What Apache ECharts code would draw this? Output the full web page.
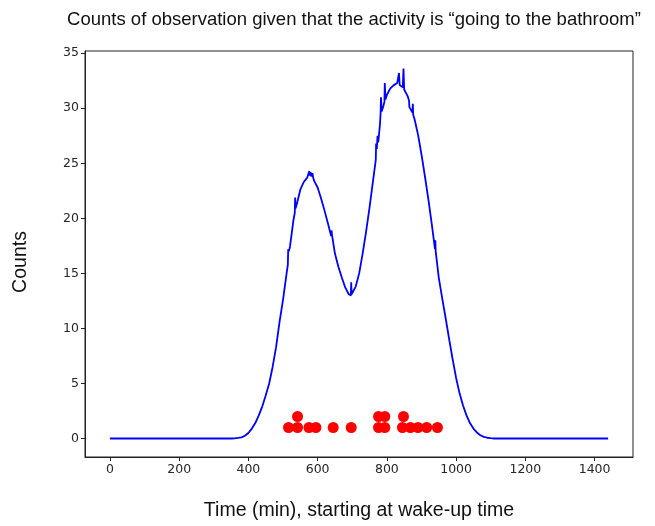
<!DOCTYPE html>
<html>
<head>
<meta charset="utf-8">
<script src="https://cdn.jsdelivr.net/npm/echarts@6/dist/echarts.min.js"></script>
<style>html,body{margin:0;padding:0;background:#fff}#c{width:655px;height:526px}</style>
</head>
<body>
<div id="c"></div>
<script>
// Curve: time (min) and counts
const timeMin = [0,350,360,370,380,390,400,410,420,430,440,450,460,470,480,490,500,510,514,515,517,520,530,534,535,536,540,550,560,570,575,576,577,580,582,585,587,590,600,610,620,630,639,640,642,650,660,670,680,690,696,697,698,700,710,720,730,740,750,760,768,769,771,773,775,780,782,783,785,790,793,794,796,800,810,820,830,834,835,837,840,846,848,850,860,864,865,870,874,875,876,880,890,900,910,920,930,939,940,941,950,960,970,980,990,1000,1010,1020,1030,1040,1050,1060,1070,1080,1090,1100,1110,1439];
const counts = [0,0,0.02,0.05,0.1,0.25,0.5,0.9,1.4,2.1,2.9,3.9,5.0,6.5,8.3,10.6,12.6,14.9,15.8,17.2,17.0,17.4,19.8,20.5,21.9,20.9,21.3,22.6,23.3,23.7,23.8,24.3,23.9,24.2,23.8,24.1,23.7,23.4,22.8,21.8,20.7,19.5,18.4,18.9,18.4,16.8,15.6,14.6,13.7,13.1,13.0,14.2,13.1,13.1,13.8,15.0,16.8,18.8,21.0,23.4,25.3,26.8,26.3,27.5,26.9,28.5,29.6,31.0,29.7,30.2,30.6,32.3,30.8,31.2,31.8,32.1,32.3,32.2,33.2,32.1,32.2,31.9,33.6,31.7,31.1,30.7,30.1,30.0,29.6,30.4,29.4,29.0,27.6,25.8,23.8,21.7,19.4,17.2,18.0,17.0,14.6,12.7,10.9,9.0,7.2,5.5,4.1,3.0,2.1,1.4,0.9,0.55,0.3,0.15,0.07,0.03,0,0];
// Observations (red dots)
const obsTimesLevel1 = [516,542,575,595,645,697,776,794,845,868,890,915,946];
const obsTimesLevel2 = [542,776,794,848];
// Ticks
const xTicks = [0,200,400,600,800,1000,1200,1400];
const yTicks = [0,5,10,15,20,25,30,35];

const curveData = timeMin.map((t,i)=>[t,counts[i]]);
const dotData = obsTimesLevel1.map(t=>[t,1]).concat(obsTimesLevel2.map(t=>[t,2]));

const chart = echarts.init(document.getElementById('c'), null, {renderer:'canvas'});
const tickFont = {fontFamily:'DejaVu Sans', fontSize:12.5, color:'#262626', formatter:v=>String(v)};
chart.setOption({
  animation:false,
  backgroundColor:'#fff',
  title:{
    text:'Counts of observation given that the activity is \u201cgoing to the bathroom\u201d',
    left:349, top:5, textAlign:'center',
    textStyle:{fontFamily:'Liberation Sans', fontSize:18.5, fontWeight:'normal', color:'#111'}
  },
  graphic:[{
    type:'text', x:21, y:262, rotation:Math.PI/2,
    style:{text:'Counts', font:'19.5px "Liberation Sans"', fill:'#111', align:'center', verticalAlign:'middle'}
  }],
  grid:{left:85, right:22, top:51, bottom:68, show:true, borderColor:'#222', borderWidth:1, backgroundColor:'transparent'},
  xAxis:{
    type:'value', min:-71.95, max:1510.95,
    name:'Time (min), starting at wake-up time', nameLocation:'middle', nameGap:44,
    nameTextStyle:{fontFamily:'Liberation Sans', fontSize:19.5, color:'#111'},
    axisLine:{show:true, onZero:false, lineStyle:{color:'#222', width:1}},
    axisTick:{show:true, length:4, customValues:xTicks, lineStyle:{color:'#222'}},
    axisLabel:Object.assign({customValues:xTicks, margin:6}, tickFont),
    splitLine:{show:false}
  },
  yAxis:{
    type:'value', min:-1.68, max:35.2,
    axisLine:{show:true, onZero:false, lineStyle:{color:'#222', width:1}},
    axisTick:{show:true, length:4, customValues:yTicks, lineStyle:{color:'#222'}},
    axisLabel:Object.assign({customValues:yTicks, margin:6}, tickFont),
    splitLine:{show:false}
  },
  series:[
    {type:'line', data:curveData, showSymbol:false, smooth:false,
     lineStyle:{color:'#0000ff', width:1.8}, z:2},
    {type:'scatter', data:dotData, symbol:'circle', symbolSize:11,
     itemStyle:{color:'#ff0000', opacity:1}, z:3}
  ]
});
</script>
</body>
</html>
